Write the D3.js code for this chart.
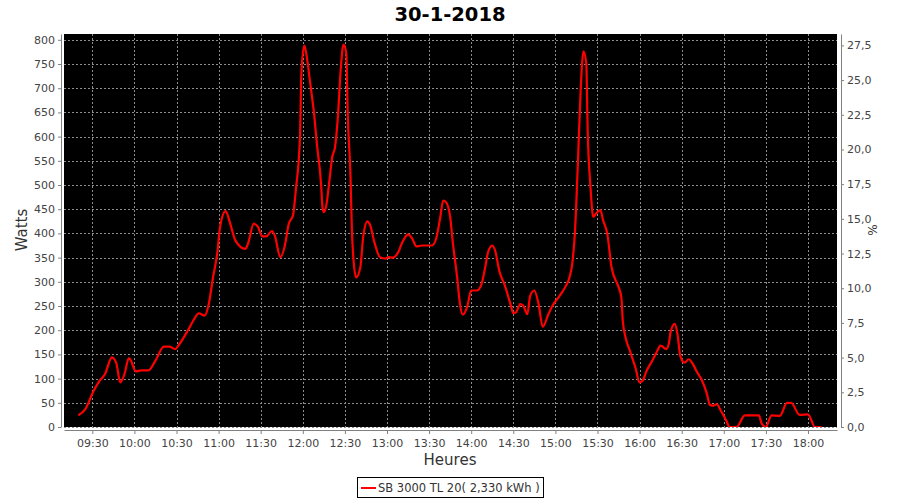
<!DOCTYPE html>
<html>
<head>
<meta charset="utf-8">
<script src="https://cdn.jsdelivr.net/npm/d3@7/dist/d3.min.js"></script>
<style>
  html, body { margin: 0; padding: 0; background: #fff; }
  svg { display: block; font-family: "DejaVu Sans", sans-serif; }
</style>
</head>
<body>
<svg id="chart" width="900" height="500"></svg>
<script>
const title = "30-1-2018";
const seriesName = "SB 3000 TL 20( 2,330 kWh )";
const xLabel = "Heures";
const yLabel = "Watts";
const y2Label = "%";

const times = [
  "09:20","09:25","09:31","09:35","09:39","09:44","09:47","09:50","09:53","09:56","09:57",
  "10:01","10:05","10:10","10:15","10:21","10:25","10:29","10:32","10:38","10:42","10:46","10:50","10:53","10:56","10:59",
  "11:01","11:05","11:08","11:12","11:19","11:21","11:25","11:28","11:31","11:34","11:38","11:40","11:44","11:47","11:50","11:53","11:55","11:58","11:59",
  "12:01","12:02","12:05","12:07","12:08","12:10","12:13","12:14","12:15","12:17","12:19","12:21","12:23","12:25","12:27","12:29","12:31","12:32","12:34","12:35","12:36","12:38","12:41","12:43","12:46","12:48","12:51","12:55","12:59",
  "13:01","13:04","13:08","13:11","13:15","13:18","13:21","13:25","13:32","13:35","13:38","13:40","13:42","13:45","13:47","13:50","13:52","13:54","13:57",
  "14:00","14:04","14:07","14:10","14:12","14:15","14:17","14:20","14:24","14:28","14:30","14:32","14:35","14:37","14:40","14:42","14:45","14:48","14:51","14:55","14:58",
  "15:03","15:07","15:10","15:12","15:14","15:16","15:18","15:20","15:22","15:23","15:25","15:27","15:29","15:32","15:34","15:37","15:40","15:45","15:47","15:48","15:50","15:53","15:57",
  "16:00","16:02","16:05","16:09","16:12","16:15","16:19","16:21","16:22","16:25","16:27","16:29","16:32","16:35","16:38","16:41","16:44","16:48","16:50","16:52","16:55","16:58",
  "17:02","17:04","17:09","17:15","17:25","17:27","17:30","17:34","17:40","17:45","17:48","17:54",
  "18:00","18:05","18:10"
];
const watts = [
  24,37,75,95,109,144,133,92,110,142,140,
  115,117,117,137,166,166,161,171,199,220,235,230,254,309,358,
  413,446,423,385,368,379,420,414,394,394,405,396,351,372,420,437,489,600,731,
  788,779,717,672,648,586,503,455,444,462,510,558,579,641,738,790,772,648,517,406,351,309,330,392,425,417,382,351,348,
  351,350,361,382,398,389,373,375,375,389,434,468,465,434,379,309,254,232,247,
  282,282,292,330,361,375,365,323,292,254,235,237,254,251,233,271,282,254,207,233,251,
  271,289,309,337,406,544,696,776,752,613,496,434,441,448,427,399,330,289,268,220,185,158,123,
  92,95,116,137,154,168,161,175,195,213,192,147,133,140,130,113,99,68,46,44,47,33,
  12,0,0,24,24,7,0,24,23,50,50,25,
  26,0,0
];
const xTicks = ["09:30","10:00","10:30","11:00","11:30","12:00","12:30","13:00","13:30","14:00","14:30","15:00","15:30","16:00","16:30","17:00","17:30","18:00"];
const yTicks = [0,50,100,150,200,250,300,350,400,450,500,550,600,650,700,750,800];
const y2Ticks = [0,2.5,5,7.5,10,12.5,15,17.5,20,22.5,25,27.5];
const xDomain = ["09:09:50","18:20:40"];
const yDomain = [0, 812];
const y2Domain = [0, 28.32];

const parse = d3.timeParse("%H:%M");
const parseS = d3.timeParse("%H:%M:%S");
const data = times.map((t, i) => ({ t: parse(t), v: watts[i] }));

const svg = d3.select("#chart");
const L = 64, R = 837, T = 34, B = 427;

const x = d3.scaleTime().domain(xDomain.map(parseS)).range([L, R]);
const y = d3.scaleLinear().domain(yDomain).range([B, T]);
const y2 = d3.scaleLinear().domain(y2Domain).range([B, T]);

// Title
svg.append("text").attr("x", 450).attr("y", 21).attr("text-anchor", "middle")
  .attr("font-size", 19.5).attr("font-weight", "bold").attr("fill", "#000").text(title);

// Plot background
svg.append("rect").attr("x", L).attr("y", T).attr("width", R - L).attr("height", B - T).attr("fill", "#000");

// Grid
const grid = svg.append("g").attr("stroke", "#8c8c8c").attr("stroke-width", 1).attr("stroke-dasharray", "2,2");
xTicks.forEach(s => {
  const xx = Math.round(x(parse(s))) + 0.5;
  grid.append("line").attr("x1", xx).attr("x2", xx).attr("y1", T).attr("y2", B);
});
yTicks.forEach(v => {
  const yy = Math.round(y(v)) + 0.5;
  grid.append("line").attr("x1", L).attr("x2", R).attr("y1", yy).attr("y2", yy);
});

// Clip
svg.append("clipPath").attr("id", "clip").append("rect")
  .attr("x", L).attr("y", T).attr("width", R - L).attr("height", B - T);

// Line
const line = d3.line().x(d => x(d.t)).y(d => y(d.v)).curve(d3.curveMonotoneX);
svg.append("path").datum(data).attr("clip-path", "url(#clip)")
  .attr("fill", "none").attr("stroke", "#ff0000").attr("stroke-width", 2.2)
  .attr("stroke-linejoin", "round").attr("d", line);

// Axes
const axisColor = "#808080";
const labelColor = "#444";

const xAxis = d3.axisBottom(x).tickValues(xTicks.map(parse)).tickFormat(d3.timeFormat("%H:%M")).tickSize(4).tickSizeOuter(0);
const gx = svg.append("g").attr("transform", `translate(0,${B + 3})`).call(xAxis);
const yAxis = d3.axisLeft(y).tickValues(yTicks).tickFormat(d3.format("d")).tickSize(3).tickSizeOuter(0);
const gy = svg.append("g").attr("transform", `translate(${L - 3},0)`).call(yAxis);
const fmt2 = v => d3.format(".1f")(v).replace(".", ",");
const y2Axis = d3.axisRight(y2).tickValues(y2Ticks).tickFormat(fmt2).tickSize(3).tickSizeOuter(0);
const gy2 = svg.append("g").attr("transform", `translate(${R + 4},0)`).call(y2Axis);

[gx, gy, gy2].forEach(g => {
  g.select(".domain").attr("stroke", axisColor);
  g.selectAll(".tick line").attr("stroke", axisColor);
  g.selectAll(".tick text").attr("fill", labelColor).attr("font-size", 11).attr("font-family", "DejaVu Sans, sans-serif");
});
gx.selectAll(".tick text").attr("dy", "0.9em");
gy.selectAll(".tick text").attr("x", -6);
gy2.selectAll(".tick text").attr("x", 6);

// Axis labels
svg.append("text").attr("x", 450).attr("y", 465).attr("text-anchor", "middle")
  .attr("font-size", 15).attr("fill", "#333").text(xLabel);
svg.append("text").attr("transform", "translate(27,230) rotate(-90)").attr("text-anchor", "middle")
  .attr("font-size", 15).attr("fill", "#333").text(yLabel);
svg.append("text").attr("transform", "translate(877,230) rotate(-90)").attr("text-anchor", "middle")
  .attr("font-size", 12).attr("fill", "#333").text(y2Label);

// Legend
const lg = svg.append("g");
lg.append("rect").attr("x", 357.5).attr("y", 477.5).attr("width", 186).attr("height", 20)
  .attr("fill", "#fff").attr("stroke", "#000").attr("stroke-width", 1);
lg.append("line").attr("x1", 361).attr("x2", 376).attr("y1", 488).attr("y2", 488)
  .attr("stroke", "#ff0000").attr("stroke-width", 2);
lg.append("text").attr("x", 378).attr("y", 492).attr("font-size", 11.5).attr("fill", "#333").text(seriesName);
</script>
</body>
</html>
